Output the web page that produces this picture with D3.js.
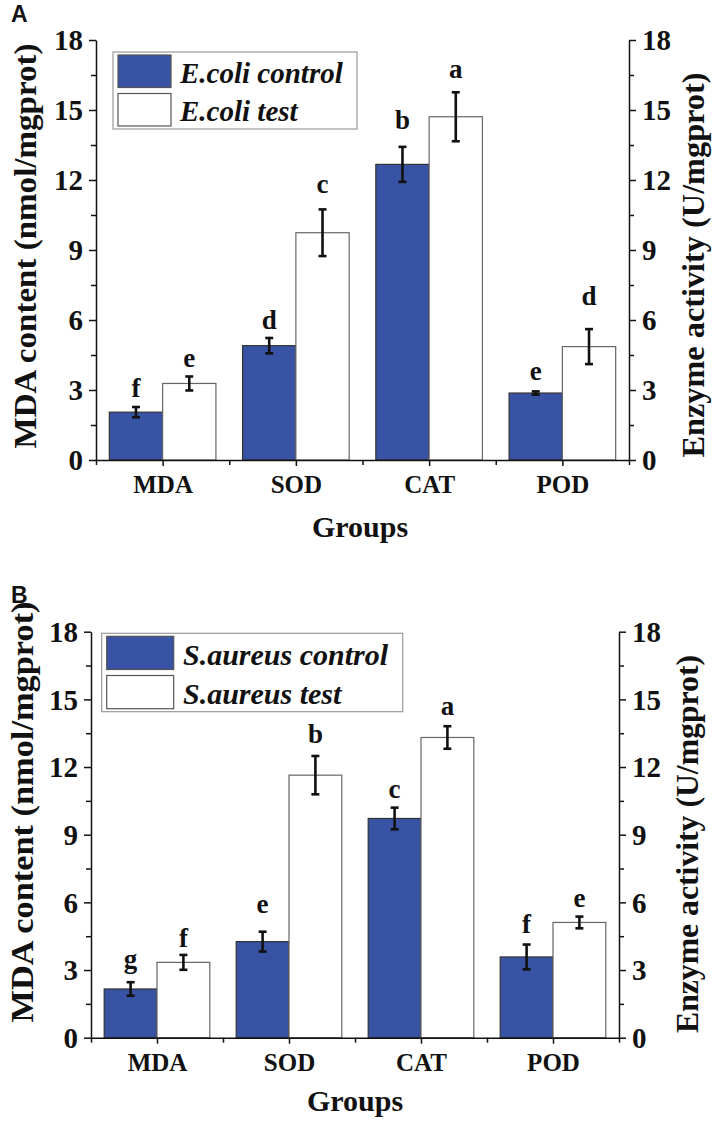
<!DOCTYPE html>
<head>
    <meta charset="utf-8">
    <title>MDA content and enzyme activity</title>
    <script src="https://d3js.org/d3.v7.min.js"></script>
    <style>
    body { margin: 0; background: #fff; }
    svg text { font-family: "Liberation Serif", "Times New Roman", Times, serif; font-weight: bold; fill: #111; }
    svg text.tag { font-family: "Liberation Sans", Arial, Helvetica, sans-serif; }
    .axis path, .axis line { stroke: #111; stroke-width: 1.5; }
    </style>
</head>
<body>
<script>
var groups = ["MDA", "SOD", "CAT", "POD"];
var yTicks = [0, 3, 6, 9, 12, 15, 18];
var yMinor = [1.5, 4.5, 7.5, 10.5, 13.5, 16.5];

// panel A, E. coli
var ecoliControl = [2.05, 4.9, 12.67, 2.87];
var ecoliControlErr = [0.22, 0.33, 0.75, 0.07];
var ecoliTest = [3.28, 9.74, 14.71, 4.86];
var ecoliTestErr = [0.3, 1.0, 1.05, 0.75];
var ecoliControlLetters = ["f", "d", "b", "e"];
var ecoliTestLetters = ["e", "c", "a", "d"];
var ecoliControlLetterAt = [2.71, 5.61, 14.2, 3.43];
var ecoliTestLetterAt = [4.0, 11.44, 16.37, 6.64];

// panel B, S. aureus
var saureusControl = [2.16, 4.26, 9.72, 3.58];
var saureusControlErr = [0.3, 0.44, 0.48, 0.55];
var saureusTest = [3.34, 11.64, 13.31, 5.11];
var saureusTestErr = [0.33, 0.85, 0.5, 0.26];
var saureusControlLetters = ["g", "e", "c", "f"];
var saureusTestLetters = ["f", "b", "a", "e"];
var saureusControlLetterAt = [3.11, 5.54, 10.61, 4.63];
var saureusTestLetterAt = [4.0, 13.05, 14.3, 5.78];

var blue = "#3953a4";

var svg = d3.select("body").append("svg")
    .attr("width", 722)
    .attr("height", 1121);

function panel(p) {
    var g = svg.append("g");
    var x = d3.scaleLinear().domain([0.5, 4.5]).range([p.left, p.right]);
    var y = d3.scaleLinear().domain([0, 18]).range([p.bottom, p.top]);
    var bw = 0.4;

    g.append("text").attr("class", "tag")
        .attr("x", 11).attr("y", p.tagY)
        .style("font-size", "23px")
        .text(p.tag);

    // bars
    var series = [
        {vals: p.control, err: p.controlErr, letters: p.controlLetters, at: p.controlLetterAt, off: -bw, fill: blue, stroke: "#333"},
        {vals: p.test, err: p.testErr, letters: p.testLetters, at: p.testLetterAt, off: 0, fill: "#fff", stroke: "#666"}
    ];
    series.forEach(function(s) {
        var sg = g.append("g");
        sg.selectAll("rect").data(s.vals).enter().append("rect")
            .attr("x", function(d, i) { return x(i + 1 + s.off); })
            .attr("width", x(1 + bw) - x(1))
            .attr("y", function(d) { return y(d); })
            .attr("height", function(d) { return y(0) - y(d); })
            .attr("fill", s.fill)
            .attr("stroke", s.stroke)
            .attr("stroke-width", 1.2);

        var cx = function(i) { return x(i + 1 + s.off + bw / 2); };
        var eb = sg.selectAll(".eb").data(s.vals).enter().append("g")
            .attr("stroke", "#111").attr("stroke-width", 2.6);
        eb.append("line")
            .attr("x1", function(d, i) { return cx(i); })
            .attr("x2", function(d, i) { return cx(i); })
            .attr("y1", function(d, i) { return y(d + s.err[i]); })
            .attr("y2", function(d, i) { return y(d - s.err[i]); });
        [1, -1].forEach(function(sign) {
            eb.append("line")
                .attr("x1", function(d, i) { return cx(i) - 4; })
                .attr("x2", function(d, i) { return cx(i) + 4; })
                .attr("y1", function(d, i) { return y(d + sign * s.err[i]); })
                .attr("y2", function(d, i) { return y(d + sign * s.err[i]); });
        });

        sg.selectAll(".lt").data(s.letters).enter().append("text")
            .attr("x", function(d, i) { return cx(i); })
            .attr("y", function(d, i) { return y(s.at[i]); })
            .attr("text-anchor", "middle")
            .style("font-size", "27px")
            .text(function(d) { return d; });
    });

    // axes
    var ax = g.append("g").attr("class", "axis").attr("transform", "translate(0," + p.bottom + ")");
    ax.call(d3.axisBottom(x).tickValues([1, 2, 3, 4]).tickFormat(function(d) { return groups[d - 1]; })
        .tickSize(6).tickSizeOuter(0).tickPadding(6));
    ax.selectAll("text").style("font-size", "25px").attr("dy", null).attr("y", p.catY - p.bottom);
    g.append("g").attr("class", "axis").attr("transform", "translate(0," + p.bottom + ")")
        .call(d3.axisBottom(x).tickValues([0.5, 1.5, 2.5, 3.5, 4.5]).tickFormat("").tickSize(5).tickSizeOuter(0))
        .select(".domain").remove();

    var yl = g.append("g").attr("class", "axis").attr("transform", "translate(" + p.left + ",0)");
    yl.call(d3.axisLeft(y).tickValues(yTicks).tickSize(7).tickSizeOuter(0).tickPadding(6));
    yl.selectAll("text").style("font-size", "29px").attr("dy", "0.34em");
    g.append("g").attr("class", "axis").attr("transform", "translate(" + p.left + ",0)")
        .call(d3.axisLeft(y).tickValues(yMinor).tickFormat("").tickSize(5).tickSizeOuter(0))
        .select(".domain").remove();

    var yr = g.append("g").attr("class", "axis").attr("transform", "translate(" + p.right + ",0)");
    yr.call(d3.axisRight(y).tickValues(yTicks).tickSize(7).tickSizeOuter(0).tickPadding(6));
    yr.selectAll("text").style("font-size", "29px").attr("dy", "0.34em");
    g.append("g").attr("class", "axis").attr("transform", "translate(" + p.right + ",0)")
        .call(d3.axisRight(y).tickValues(yMinor).tickFormat("").tickSize(5).tickSizeOuter(0))
        .select(".domain").remove();
    g.selectAll(".axis text").attr("font-family", null).style("fill", "#111");

    // titles
    g.append("text")
        .attr("transform", "translate(" + p.ltX + "," + p.ltY + ") rotate(-90)")
        .attr("text-anchor", "middle")
        .attr("textLength", p.ltLen).attr("lengthAdjust", "spacingAndGlyphs")
        .style("font-size", "32px")
        .text("MDA content (nmol/mgprot)");
    g.append("text")
        .attr("transform", "translate(" + p.rtX + "," + p.rtY + ") rotate(-90)")
        .attr("text-anchor", "middle")
        .attr("textLength", p.rtLen).attr("lengthAdjust", "spacingAndGlyphs")
        .style("font-size", "32px")
        .text("Enzyme activity (U/mgprot)");
    g.append("text")
        .attr("x", p.grX).attr("y", p.grY)
        .attr("text-anchor", "middle")
        .style("font-size", "30px")
        .text("Groups");

    // legend
    var L = p.legend;
    g.append("rect")
        .attr("x", L.x).attr("y", L.y).attr("width", L.w).attr("height", L.h)
        .attr("fill", "#fff").attr("stroke", "#999").attr("stroke-width", 1.2);
    p.legendNames.forEach(function(name, i) {
        g.append("rect")
            .attr("x", L.x + 5).attr("y", L.y + 3 + i * L.row)
            .attr("width", L.sw).attr("height", L.row - 6)
            .attr("fill", i === 0 ? blue : "#fff")
            .attr("stroke", "#555").attr("stroke-width", 1.2);
        g.append("text")
            .attr("x", L.tx).attr("y", L.y + L.row * (i + 1) - 8)
            .style("font-size", L.fs + "px")
            .style("font-style", "italic")
            .text(name);
    });
}

panel({
    tag: "A", tagY: 22,
    left: 96, right: 629, top: 40, bottom: 460,
    control: ecoliControl, controlErr: ecoliControlErr,
    test: ecoliTest, testErr: ecoliTestErr,
    controlLetters: ecoliControlLetters, testLetters: ecoliTestLetters,
    controlLetterAt: ecoliControlLetterAt, testLetterAt: ecoliTestLetterAt,
    catY: 493, grX: 360, grY: 537,
    ltX: 36, ltY: 246, ltLen: 405,
    rtX: 704, rtY: 265, rtLen: 385,
    legendNames: ["E.coli control", "E.coli test"],
    legend: {x: 113, y: 52, w: 244, h: 77, row: 38.5, sw: 53, tx: 180, fs: 29}
});

panel({
    tag: "B", tagY: 603,
    left: 91, right: 619, top: 631.7, bottom: 1037.7,
    control: saureusControl, controlErr: saureusControlErr,
    test: saureusTest, testErr: saureusTestErr,
    controlLetters: saureusControlLetters, testLetters: saureusTestLetters,
    controlLetterAt: saureusControlLetterAt, testLetterAt: saureusTestLetterAt,
    catY: 1071, grX: 355, grY: 1111,
    ltX: 33, ltY: 812, ltLen: 421,
    rtX: 698, rtY: 844, rtLen: 378,
    legendNames: ["S.aureus control", "S.aureus test"],
    legend: {x: 101.7, y: 633.3, w: 301, h: 78.4, row: 39.2, sw: 67, tx: 183, fs: 30}
});
</script>
</body>
